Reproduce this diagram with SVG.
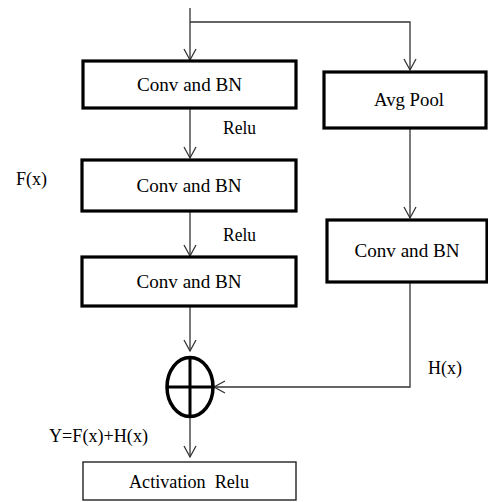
<svg xmlns="http://www.w3.org/2000/svg" width="488" height="502" viewBox="0 0 488 502">
<defs>
<marker id="arr" viewBox="0 0 14 14" refX="12" refY="7" markerWidth="14" markerHeight="14" markerUnits="userSpaceOnUse" orient="auto">
<path d="M1,1 L12,7 L1,13" fill="none" stroke="#333" stroke-width="1.3"/>
</marker>
<style>
.box{fill:#fff;stroke:#000;stroke-width:3.2}
.thin{fill:#fff;stroke:#222;stroke-width:1.4}
.t{font-family:"Liberation Serif","Times New Roman",serif;font-size:19px;fill:#000;text-anchor:middle}
.l{font-family:"Liberation Serif","Times New Roman",serif;font-size:18px;fill:#000}
.c{fill:none;stroke:#333;stroke-width:1.3}
</style>
</defs>
<rect width="488" height="502" fill="#fff"/>
<g id="connectors">
<path class="c" d="M190,8 V60" marker-end="url(#arr)"/>
<path class="c" d="M190,22 H410 V70" marker-end="url(#arr)"/>
<path class="c" d="M190,108 V158" marker-end="url(#arr)"/>
<path class="c" d="M190,211 V256" marker-end="url(#arr)"/>
<path class="c" d="M190,306 V351" marker-end="url(#arr)"/>
<path class="c" d="M410,128 V218" marker-end="url(#arr)"/>
<path class="c" d="M410,282 V387 H214" marker-end="url(#arr)"/>
<path class="c" d="M190,417 V457" marker-end="url(#arr)"/>
</g>
<g id="conv1"><rect class="box" x="83" y="61" width="213" height="47"/><text class="t" x="189.5" y="91" textLength="105" lengthAdjust="spacingAndGlyphs">Conv and BN</text></g>
<g id="avgpool"><rect class="box" x="324" y="72" width="162" height="56"/><text class="t" x="409" y="106" textLength="70" lengthAdjust="spacingAndGlyphs">Avg Pool</text></g>
<g id="conv2"><rect class="box" x="82" y="160" width="214" height="51"/><text class="t" x="189" y="192" textLength="105" lengthAdjust="spacingAndGlyphs">Conv and BN</text></g>
<g id="conv3"><rect class="box" x="82" y="257" width="214" height="49"/><text class="t" x="189" y="288" textLength="105" lengthAdjust="spacingAndGlyphs">Conv and BN</text></g>
<g id="conv4"><rect class="box" x="327" y="220" width="160" height="62"/><text class="t" x="407" y="257" textLength="105" lengthAdjust="spacingAndGlyphs">Conv and BN</text></g>
<g id="sum">
<ellipse cx="190" cy="387" rx="23" ry="29.5" fill="#fff" stroke="#000" stroke-width="3.5"/>
<path d="M167,387 H213 M190,357.5 V416.5" stroke="#000" stroke-width="3"/>
</g>
<g id="activation"><rect class="thin" x="83" y="462" width="213" height="38"/><text class="t" x="189" y="488" xml:space="preserve" textLength="120" lengthAdjust="spacingAndGlyphs">Activation  Relu</text></g>
<g id="labels">
<text class="l" x="223" y="134" textLength="33" lengthAdjust="spacingAndGlyphs">Relu</text>
<text class="l" x="223" y="241" textLength="33" lengthAdjust="spacingAndGlyphs">Relu</text>
<text class="l" x="16" y="185" textLength="31" lengthAdjust="spacingAndGlyphs">F(x)</text>
<text class="l" x="428" y="374" textLength="34" lengthAdjust="spacingAndGlyphs">H(x)</text>
<text class="l" x="49" y="442" textLength="99" lengthAdjust="spacingAndGlyphs">Y=F(x)+H(x)</text>
</g>
</svg>
